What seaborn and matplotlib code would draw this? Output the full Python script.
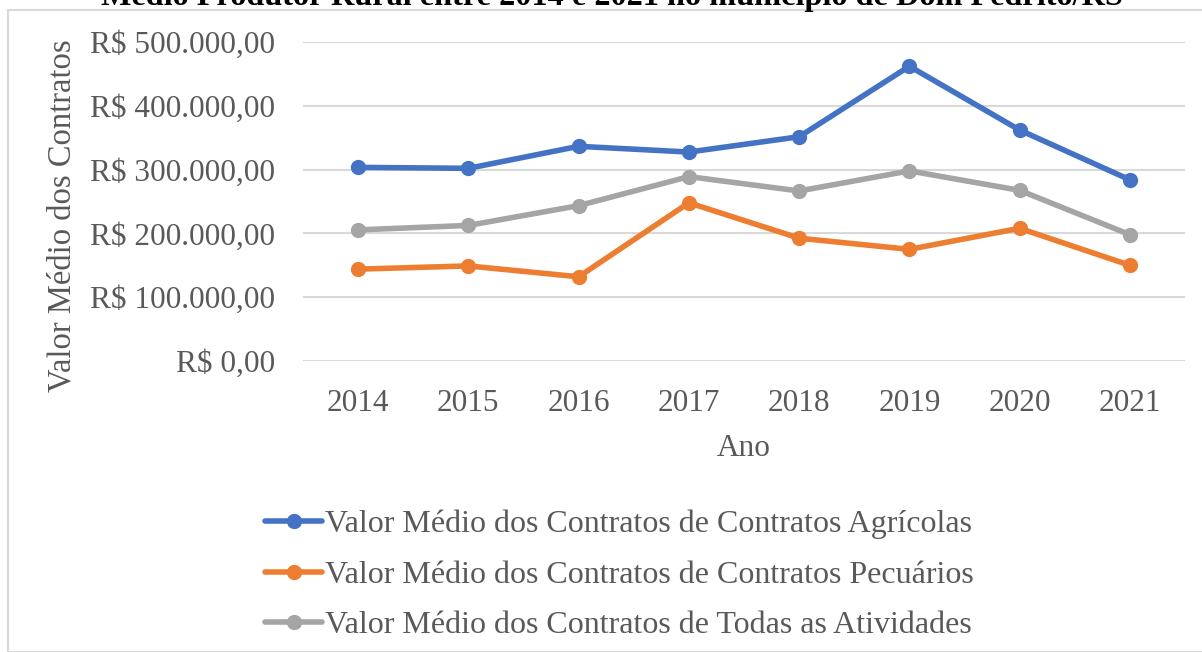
import matplotlib
matplotlib.use("Agg")
import matplotlib.pyplot as plt
import matplotlib.ticker as mticker
from matplotlib.patches import Rectangle
import seaborn as sns
import pandas as pd

anos = [2014, 2015, 2016, 2017, 2018, 2019, 2020, 2021]
agricolas = [303500, 302000, 336500, 327500, 351500, 462000, 362000, 284000]
pecuarios = [144000, 149000, 132000, 248000, 192500, 175000, 208000, 150000]
todas = [205500, 212500, 243500, 289000, 266500, 298000, 267500, 198000]

series_nomes = [
    "Valor Médio dos Contratos de Contratos Agrícolas",
    "Valor Médio dos Contratos de Contratos Pecuários",
    "Valor Médio dos Contratos de Todas as Atividades",
]
cores = ["#4472C4", "#ED7D31", "#A5A5A5"]
titulo = "Médio Produtor Rural entre 2014 e 2021 no município de Dom Pedrito/RS"
yticks = [0, 100000, 200000, 300000, 400000, 500000]

rows = []
for nome, vals in zip(series_nomes, [agricolas, pecuarios, todas]):
    for a, v in zip(anos, vals):
        rows.append({"Ano": a, "Valor": v, "Serie": nome})
df = pd.DataFrame(rows)

sns.set_style("white")
plt.rcParams["font.family"] = ["Liberation Serif", "DejaVu Serif"]

W, H = 1202, 652
fig = plt.figure(figsize=(W / 100, H / 100), dpi=100)
ax = fig.add_axes([303 / W, 1 - 361 / H, (1185 - 303) / W, (361 - 42) / H])

sns.lineplot(data=df, x="Ano", y="Valor", hue="Serie", palette=cores,
             marker="o", markersize=11, markeredgewidth=0, linewidth=4,
             ax=ax, legend=True)

ax.set_xlim(anos[0] - 0.5, anos[-1] + 0.5)
ax.set_ylim(0, 500000)
ax.set_xticks(anos)
ax.set_xticklabels([str(a) for a in anos])
ax.set_yticks(yticks)

def fmt(v, pos=None):
    s = f"{v:,.2f}"
    s = s.replace(",", "X").replace(".", ",").replace("X", ".")
    return "R$ " + s
ax.yaxis.set_major_formatter(mticker.FuncFormatter(fmt))

fs = 22.5
txtc = "#595959"
ax.tick_params(axis="both", length=0, labelsize=fs, labelcolor=txtc)
ax.tick_params(axis="y", pad=20)
ax.tick_params(axis="x", pad=20)
ax.grid(axis="y", color="#D9D9D9", linewidth=1.5)
ax.grid(axis="x", visible=False)
for s in ax.spines.values():
    s.set_visible(False)

ax.set_xlabel("Ano", fontsize=fs, color=txtc, labelpad=12)
ax.set_ylabel("Valor Médio dos Contratos", fontsize=23.5, color=txtc)
ax.yaxis.set_label_coords((78 - 303) / (1185 - 303), (361 - 216) / (361 - 42))

handles, labels = ax.get_legend_handles_labels()
ax.get_legend().remove()
leg = fig.legend(handles, labels, loc="upper left",
                 bbox_to_anchor=(252 / W, 1 - 497 / H),
                 frameon=False, fontsize=23, handlelength=1.8,
                 handletextpad=0.08, labelspacing=0.66, borderaxespad=0)
for t in leg.get_texts():
    t.set_color(txtc)

fig.text(612 / W, 1 - 5 / H, titulo, ha="center", va="baseline",
         fontsize=23.2, fontweight="bold", color="black")

fig.patches.append(Rectangle((8 / W, 0), 1.2, 1 - 10 / H, transform=fig.transFigure,
                             fill=False, edgecolor="#D9D9D9", linewidth=1.5))

fig.savefig("out.png", dpi=100)
